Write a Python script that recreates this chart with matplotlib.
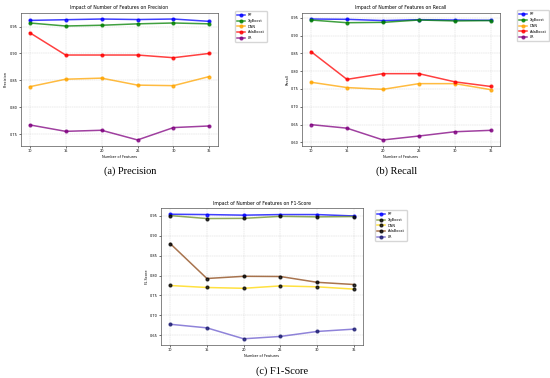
import matplotlib
matplotlib.use('Agg')
import matplotlib.pyplot as plt

features = [10, 15, 20, 25, 30, 35]
models = ['RF', 'XgBoost', 'DNN', 'AdaBoost', 'LR']

precision_rf = [0.9614, 0.9627, 0.9640, 0.9630, 0.9640, 0.9596]
precision_xgb = [0.9566, 0.9510, 0.9524, 0.9550, 0.9566, 0.9550]
precision_dnn = [0.8380, 0.8520, 0.8540, 0.8410, 0.8400, 0.8570]
precision_ada = [0.9386, 0.8970, 0.8970, 0.8970, 0.8920, 0.9000]
precision_lr = [0.7670, 0.7550, 0.7570, 0.7390, 0.7620, 0.7650]

recall_rf = [0.9464, 0.9455, 0.9420, 0.9445, 0.9436, 0.9427]
recall_xgb = [0.9436, 0.9360, 0.9370, 0.9436, 0.9410, 0.9420]
recall_dnn = [0.7690, 0.7540, 0.7490, 0.7650, 0.7650, 0.7480]
recall_ada = [0.8550, 0.7770, 0.7930, 0.7930, 0.7700, 0.7570]
recall_lr = [0.6500, 0.6400, 0.6070, 0.6180, 0.6300, 0.6340]

f1_rf = [0.9533, 0.9525, 0.9510, 0.9525, 0.9525, 0.9490]
f1_xgb = [0.9500, 0.9425, 0.9430, 0.9480, 0.9467, 0.9475]
f1_dnn = [0.7750, 0.7700, 0.7680, 0.7740, 0.7717, 0.7660]
f1_ada = [0.8800, 0.7925, 0.7980, 0.7975, 0.7830, 0.7775]
f1_lr = [0.6780, 0.6690, 0.6417, 0.6475, 0.6600, 0.6658]

colors_ab = ['blue', 'green', 'orange', 'red', 'purple']
colors_c = ['blue', 'olivedrab', 'gold', 'saddlebrown', 'slateblue']

fig = plt.figure(figsize=(5.5, 3.78), dpi=100)


def panel(rect, series, colors, title, ylabel, caption, cap_xy, leg_xy, marker_dark=False):
    ax = fig.add_axes(rect)
    for name, vals, c in zip(models, series, colors):
        mc = c
        if marker_dark and name != 'RF':
            mc = 'midnightblue' if name == 'LR' else 'black'
        ax.plot(features, vals, marker='o', markersize=2, color=c, alpha=0.75,
                linewidth=1.1, label=name, markerfacecolor=mc, markeredgecolor=mc)
    ax.set_title(title, fontsize=3.3, pad=2.5)
    ax.set_xlabel('Number of Features', fontsize=2.5, labelpad=1)
    ax.set_ylabel(ylabel, fontsize=2.5, labelpad=1)
    ax.set_xticks(features)
    ax.tick_params(labelsize=2.5, length=1.5, width=0.4, pad=1)
    ax.grid(True, linestyle='--', linewidth=0.3, alpha=0.6)
    for s in ax.spines.values():
        s.set_linewidth(0.5)
        s.set_color('#555555')
    ax.legend(loc='upper left', bbox_to_anchor=leg_xy, fontsize=2.5,
              borderaxespad=0, handlelength=2.2, frameon=True, framealpha=0.8,
              edgecolor='#cccccc', fancybox=True, borderpad=0.6, labelspacing=0.5)
    fig.text(cap_xy[0], cap_xy[1], caption, ha='center', va='center',
             fontsize=7.5, family='Liberation Serif')
    return ax


panel([0.0376, 0.6138, 0.3595, 0.3519],
      [precision_rf, precision_xgb, precision_dnn, precision_ada, precision_lr],
      colors_ab, 'Impact of Number of Features on Precision', 'Precision',
      '(a) Precision', (130 / 550, 1 - 171 / 378), (1.086, 1.015))
panel([0.549, 0.6138, 0.36, 0.3519],
      [recall_rf, recall_xgb, recall_dnn, recall_ada, recall_lr],
      colors_ab, 'Impact of Number of Features on Recall', 'Recall',
      '(b) Recall', (397 / 550, 1 - 171 / 378), (1.086, 1.02))
panel([0.2927, 0.0873, 0.3673, 0.3624],
      [f1_rf, f1_xgb, f1_dnn, f1_ada, f1_lr],
      colors_c, 'Impact of Number of Features on F1-Score', 'F1-Score',
      '(c) F1-Score', (282 / 550, 1 - 371 / 378), (1.06, 0.985), marker_dark=True)

fig.savefig('out.png', dpi=100)
